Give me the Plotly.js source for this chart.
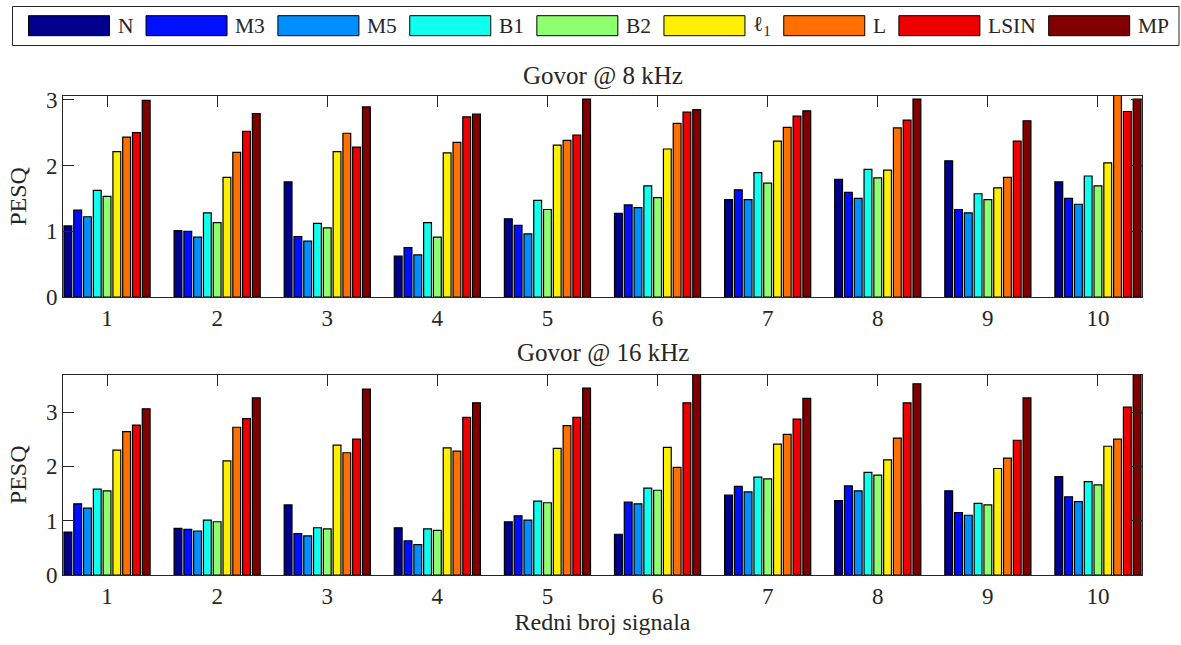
<!DOCTYPE html>
<html>
<head>
<meta charset="utf-8">
<script src="https://cdn.plot.ly/plotly-3.0.1.min.js"></script>
<style>html,body{margin:0;padding:0;background:#fff;}#chart{width:1181px;height:645px;}</style>
</head>
<body>
<div id="chart"></div>
<script>
// ---- data ----
const signals = [1, 2, 3, 4, 5, 6, 7, 8, 9, 10];
const seriesNames = ['N', 'M3', 'M5', 'B1', 'B2', 'ℓ1', 'L', 'LSIN', 'MP'];
const seriesLabels = ['N', 'M3', 'M5', 'B1', 'B2', 'ℓ<sub>1</sub>', 'L', 'LSIN', 'MP'];
const seriesColors = ['rgb(0,0,143)', 'rgb(0,16,255)', 'rgb(0,143,255)', 'rgb(16,255,239)',
  'rgb(143,255,112)', 'rgb(255,239,0)', 'rgb(255,112,0)', 'rgb(239,0,0)', 'rgb(128,0,0)'];

// Govor @ 8 kHz
const pesq8_N    = [1.08, 1.01, 1.75, 0.62, 1.19, 1.27, 1.48, 1.79, 2.07, 1.75];
const pesq8_M3   = [1.32, 1.00, 0.92, 0.75, 1.09, 1.40, 1.63, 1.59, 1.33, 1.50];
const pesq8_M5   = [1.22, 0.91, 0.85, 0.64, 0.96, 1.36, 1.48, 1.50, 1.28, 1.41];
const pesq8_B1   = [1.62, 1.28, 1.12, 1.13, 1.47, 1.69, 1.89, 1.94, 1.57, 1.84];
const pesq8_B2   = [1.53, 1.13, 1.05, 0.91, 1.33, 1.51, 1.73, 1.81, 1.48, 1.69];
const pesq8_l1   = [2.21, 1.82, 2.21, 2.19, 2.31, 2.25, 2.37, 1.93, 1.66, 2.04];
const pesq8_L    = [2.43, 2.20, 2.49, 2.35, 2.38, 2.64, 2.58, 2.57, 1.82, 3.15];
const pesq8_LSIN = [2.50, 2.52, 2.28, 2.74, 2.46, 2.81, 2.75, 2.69, 2.37, 2.82];
const pesq8_MP   = [2.99, 2.79, 2.89, 2.78, 3.01, 2.85, 2.83, 3.01, 2.68, 3.01];

// Govor @ 16 kHz
const pesq16_N    = [0.79, 0.86, 1.29, 0.87, 0.98, 0.75, 1.47, 1.37, 1.55, 1.81];
const pesq16_M3   = [1.31, 0.84, 0.76, 0.63, 1.09, 1.34, 1.63, 1.64, 1.15, 1.44];
const pesq16_M5   = [1.23, 0.81, 0.72, 0.56, 1.01, 1.31, 1.53, 1.55, 1.10, 1.35];
const pesq16_B1   = [1.58, 1.01, 0.87, 0.85, 1.36, 1.60, 1.80, 1.89, 1.32, 1.72];
const pesq16_B2   = [1.55, 0.98, 0.85, 0.82, 1.33, 1.56, 1.77, 1.84, 1.29, 1.66];
const pesq16_l1   = [2.30, 2.10, 2.39, 2.34, 2.33, 2.35, 2.41, 2.12, 1.96, 2.37];
const pesq16_L    = [2.64, 2.72, 2.25, 2.28, 2.75, 1.98, 2.59, 2.52, 2.15, 2.50];
const pesq16_LSIN = [2.76, 2.88, 2.50, 2.90, 2.90, 3.17, 2.87, 3.17, 2.48, 3.09];
const pesq16_MP   = [3.06, 3.26, 3.42, 3.17, 3.44, 3.72, 3.25, 3.52, 3.26, 3.75];

const tickVals = [1, 2, 3, 4, 5, 6, 7, 8, 9, 10];
const tickText = ['1', '2', '3', '4', '5', '6', '7', '8', '9', '10'];
const yTickVals = [0, 1, 2, 3];

const set8  = [pesq8_N, pesq8_M3, pesq8_M5, pesq8_B1, pesq8_B2, pesq8_l1, pesq8_L, pesq8_LSIN, pesq8_MP];
const set16 = [pesq16_N, pesq16_M3, pesq16_M5, pesq16_B1, pesq16_B2, pesq16_l1, pesq16_L, pesq16_LSIN, pesq16_MP];

// ---- geometry (pixels) ----
const W = 1181, H = 645;
const M = {l: 63, r: 39, t: 96, b: 70};
const plotW = W - M.l - M.r, plotH = H - M.t - M.b;
const px2x = p => (p - M.l) / plotW;
const py2y = p => (H - M.b - p) / plotH;

const FONT = "'Liberation Serif', 'DejaVu Serif', serif";
const TXT = '#262626';

const traces = [];
seriesNames.forEach((name, i) => {
  traces.push({type: 'bar', x: signals, y: set8[i], name: name, xaxis: 'x', yaxis: 'y',
    marker: {color: seriesColors[i], line: {color: '#000', width: 1.2}}, showlegend: false, hoverinfo: 'x+y+name'});
});
seriesNames.forEach((name, i) => {
  traces.push({type: 'bar', x: signals, y: set16[i], name: name, xaxis: 'x2', yaxis: 'y2',
    marker: {color: seriesColors[i], line: {color: '#000', width: 1.2}}, showlegend: false, hoverinfo: 'x+y+name'});
});

const xCommon = {range: [0.6, 10.4], tickvals: tickVals, ticktext: tickText, ticks: 'inside', ticklen: 11,
  tickcolor: TXT, showline: true, linecolor: TXT, linewidth: 1, mirror: 'ticks', showgrid: false, zeroline: false,
  tickfont: {family: FONT, size: 23, color: TXT}, layer: 'below traces', fixedrange: true};
const yCommon = {tickvals: yTickVals, ticks: 'inside', ticklen: 11, tickcolor: TXT, showline: true,
  linecolor: TXT, linewidth: 1, mirror: 'ticks', showgrid: false, zeroline: false,
  tickfont: {family: FONT, size: 23, color: TXT}, fixedrange: true};

// ---- custom legend (built from the series arrays) ----
const LEG_FONT = 21.5;
const cv = document.createElement('canvas').getContext('2d');
cv.font = LEG_FONT + "px 'Liberation Serif', serif";
const shapes = [];
const annotations = [];
shapes.push({type: 'rect', xref: 'paper', yref: 'paper', x0: px2x(12.5), x1: px2x(1179), y0: py2y(45.5), y1: py2y(6.5),
  line: {color: TXT, width: 1}, fillcolor: 'rgba(0,0,0,0)'});
let lx = 28.5;
const swW = 81, swTop = 15.7, swBot = 35.7;
seriesNames.forEach((name, i) => {
  shapes.push({type: 'rect', xref: 'paper', yref: 'paper', x0: px2x(lx), x1: px2x(lx + swW), y0: py2y(swBot), y1: py2y(swTop),
    line: {color: '#000', width: 1}, fillcolor: seriesColors[i]});
  const labX = lx + swW + 6;
  annotations.push({xref: 'paper', yref: 'paper', x: px2x(labX), y: py2y(25.5), xanchor: 'left', yanchor: 'middle',
    text: seriesLabels[i], showarrow: false, font: {family: FONT, size: LEG_FONT, color: TXT}});
  let tw;
  if (name === 'ℓ1') { tw = cv.measureText('ℓ').width + 0.7 * cv.measureText('1').width; }
  else { tw = cv.measureText(name).width; }
  lx = labX + tw + 15;
});

// subplot titles
annotations.push({xref: 'paper', yref: 'paper', x: 0.5, y: py2y(76), xanchor: 'center', yanchor: 'middle',
  text: 'Govor @ 8 kHz', showarrow: false, font: {family: FONT, size: 25, color: TXT}});
annotations.push({xref: 'paper', yref: 'paper', x: 0.5, y: py2y(353), xanchor: 'center', yanchor: 'middle',
  text: 'Govor @ 16 kHz', showarrow: false, font: {family: FONT, size: 25, color: TXT}});

const layout = {
  width: W, height: H,
  margin: M,
  paper_bgcolor: '#fff', plot_bgcolor: '#fff',
  barmode: 'group', bargap: 0.2, bargroupgap: 0.2,
  showlegend: false,
  font: {family: FONT, color: TXT},
  xaxis: Object.assign({}, xCommon, {anchor: 'y', domain: [0, 1]}),
  yaxis: Object.assign({}, yCommon, {anchor: 'x', domain: [py2y(297), 1], range: [0, 3.056],
    title: {text: 'PESQ', font: {family: FONT, size: 24, color: TXT}, standoff: 12}}),
  xaxis2: Object.assign({}, xCommon, {anchor: 'y2', domain: [0, 1],
    title: {text: 'Redni broj signala', font: {family: FONT, size: 24, color: TXT}, standoff: 4}}),
  yaxis2: Object.assign({}, yCommon, {anchor: 'x2', domain: [0, py2y(374.7)], range: [0, 3.687],
    title: {text: 'PESQ', font: {family: FONT, size: 24, color: TXT}, standoff: 12}}),
  shapes: shapes,
  annotations: annotations
};

Plotly.newPlot('chart', traces, layout, {displayModeBar: false, staticPlot: true});
</script>
</body>
</html>
